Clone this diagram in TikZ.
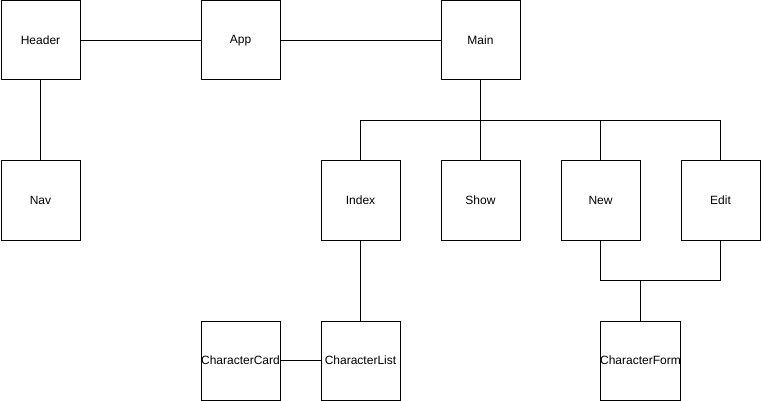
\documentclass[tikz,border=0pt]{standalone}
\usepackage{fontspec}
\setmainfont{Liberation Sans}
\begin{document}
\begin{tikzpicture}[x=1pt,y=-1pt,
  box/.style={draw=black,fill=white,line width=1pt,minimum width=79pt,minimum height=79pt,inner sep=0pt,font=\fontsize{12}{14}\selectfont},
  conn/.style={draw=black,line width=1pt}]
\useasboundingbox (0,0) rectangle (761,401);
\node[box] (Header) at (40.5,40.5) {Header};
\node[box] (App) at (240.5,40.5) {App};
\node[box] (Main) at (480.5,40.5) {Main};
\node[box] (Nav) at (40.5,200.5) {Nav};
\node[box] (Index) at (360.5,200.5) {Index};
\node[box] (Show) at (480.5,200.5) {Show};
\node[box] (New) at (600.5,200.5) {New};
\node[box] (Edit) at (720.5,200.5) {Edit};
\node[box] (Card) at (240.5,360.5) {CharacterCard};
\node[box] (List) at (360.5,360.5) {CharacterList};
\node[box] (Form) at (640.5,360.5) {CharacterForm};
\draw[conn] (Header) -- (App);
\draw[conn] (App) -- (Main);
\draw[conn] (Header) -- (Nav);
\draw[conn] (Main) -- (Show);
\draw[conn] (Main.south) -- ++(0,40) -| (Index.north);
\draw[conn] (Main.south) -- ++(0,40) -| (New.north);
\draw[conn] (Main.south) -- ++(0,40) -| (Edit.north);
\draw[conn] (Index) -- (List);
\draw[conn] (Card) -- (List);
\draw[conn] (New.south) -- ++(0,40) -| (Form.north);
\draw[conn] (Edit.south) -- ++(0,40) -| (Form.north);
\end{tikzpicture}
\end{document}
